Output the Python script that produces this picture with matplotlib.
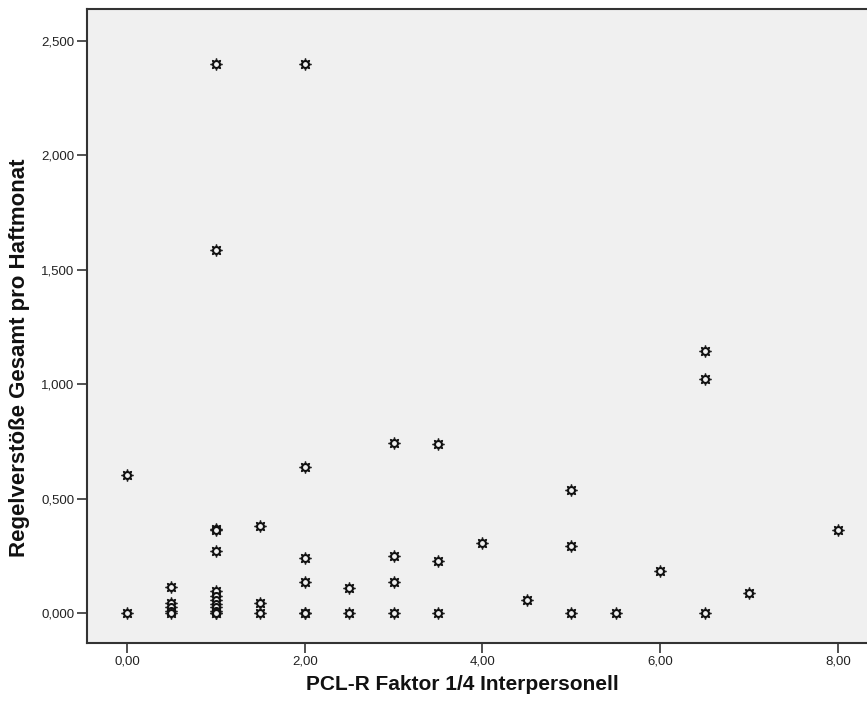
import matplotlib
matplotlib.use("Agg")
import matplotlib.pyplot as plt
from matplotlib.ticker import FuncFormatter, FixedLocator

plt.rcParams['font.family'] = ['Liberation Sans', 'DejaVu Sans']

# PCL-R factor (x) and rule violations per month (y)
pcl_faktor = [0.0, 0.0,
              0.5, 0.5, 0.5, 0.5, 0.5,
              1.0, 1.0, 1.0, 1.0, 1.0, 1.0, 1.0, 1.0, 1.0, 1.0, 1.0, 1.0, 1.0,
              1.5, 1.5, 1.5,
              2.0, 2.0, 2.0, 2.0, 2.0, 2.0,
              2.5, 2.5,
              3.0, 3.0, 3.0, 3.0,
              3.5, 3.5, 3.5,
              4.0, 4.5,
              5.0, 5.0, 5.0,
              5.5, 6.0,
              6.5, 6.5, 6.5,
              7.0, 8.0]
regelverstoesse = [0.602, 0.0,
                   0.113, 0.042, 0.025, 0.01, 0.0,
                   2.40, 1.587, 0.368, 0.365, 0.27, 0.095, 0.075, 0.058, 0.04, 0.025, 0.01, 0.0, 0.0,
                   0.38, 0.045, 0.0,
                   2.40, 0.638, 0.242, 0.136, 0.0, 0.0,
                   0.109, 0.0,
                   0.742, 0.249, 0.134, 0.0,
                   0.740, 0.227, 0.0,
                   0.307, 0.055,
                   0.539, 0.294, 0.0,
                   0.0, 0.185,
                   1.144, 1.024, 0.0,
                   0.086, 0.364]

x_ticks = [0, 2, 4, 6, 8]
y_ticks = [0.0, 0.5, 1.0, 1.5, 2.0, 2.5]
x_label = "PCL-R Faktor 1/4 Interpersonell"
y_label = "Regelverstöße Gesamt pro Haftmonat"

W, H = 867, 710
fig = plt.figure(figsize=(W/100, H/100), dpi=100)
left, right, top, bottom = 87, 869, 9, 643
ax = fig.add_axes([left/W, 1-bottom/H, (right-left)/W, (bottom-top)/H])
ax.set_facecolor('#F0F0F0')

ax.plot(pcl_faktor, regelverstoesse, linestyle='none', marker=(8, 2, 0),
        markersize=8.5, markeredgewidth=1.0, color='#222222')
ax.plot(pcl_faktor, regelverstoesse, linestyle='none', marker='o',
        markersize=5, markerfacecolor='#F0F0F0', markeredgecolor='#111111',
        markeredgewidth=1.5)

ax.set_xlim(-0.451, 8.35)
ax.set_ylim(-0.131, 2.640)
ax.xaxis.set_major_locator(FixedLocator(x_ticks))
ax.yaxis.set_major_locator(FixedLocator(y_ticks))
ax.xaxis.set_major_formatter(FuncFormatter(lambda v, p: f"{v:.2f}".replace('.', ',')))
ax.yaxis.set_major_formatter(FuncFormatter(lambda v, p: f"{v:.3f}".replace('.', ',')))
ax.tick_params(direction='out', length=7, width=1.2, color='#333333',
               labelsize=9.5, labelcolor='#222222', pad=2)
for s in ax.spines.values():
    s.set_color('#333333')
    s.set_linewidth(1.5)

fig.text(0.5 * (87 + 838) / W, 1 - 685 / H, x_label, fontsize=15, fontweight='bold',
         color='#111111', ha='center', va='center')
fig.text(20 / W, 1 - 358 / H, y_label, fontsize=16, fontweight='bold',
         color='#111111', ha='center', va='center', rotation=90)

fig.savefig('out.png', dpi=100)
